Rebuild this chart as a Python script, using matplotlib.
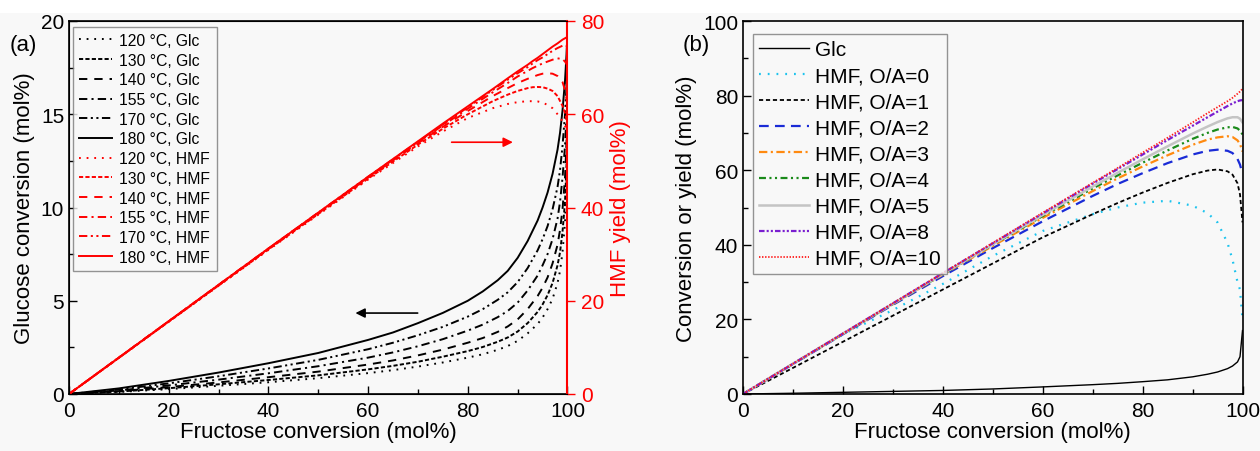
import matplotlib
matplotlib.use("Agg")
import matplotlib.pyplot as plt
from matplotlib.ticker import MultipleLocator
from matplotlib.patches import Rectangle

plt.rcParams['font.family'] = ['Liberation Sans', 'DejaVu Sans']
plt.rcParams['lines.scale_dashes'] = False

# ---------------- panel (a) data ----------------
temps = ["120", "130", "140", "155", "170", "180"]

x_glc_a = [0, 10, 20, 30, 40, 50, 60, 65, 70, 75, 80, 83, 86, 88, 90, 92, 94, 95, 96, 97, 98, 98.5, 99, 99.5, 99.8, 100]
glc_120 = [0, 0.11, 0.26, 0.44, 0.63, 0.85, 1.12, 1.28, 1.47, 1.69, 1.95, 2.13, 2.37, 2.57, 2.85, 3.25, 3.75, 4.1, 4.55, 5.1, 5.95, 6.6, 7.6, 9.2, 11.2, 14.0]
glc_130 = [0, 0.13, 0.31, 0.52, 0.75, 1.00, 1.32, 1.51, 1.73, 2.00, 2.30, 2.52, 2.80, 3.03, 3.35, 3.80, 4.40, 4.8, 5.30, 5.95, 6.90, 7.6, 8.7, 10.3, 12.2, 15.0]
glc_140 = [0, 0.15, 0.37, 0.62, 0.90, 1.20, 1.58, 1.80, 2.07, 2.38, 2.75, 3.00, 3.33, 3.62, 4.00, 4.55, 5.25, 5.7, 6.25, 7.00, 8.00, 8.8, 9.9, 11.6, 13.5, 16.0]
glc_155 = [0, 0.19, 0.46, 0.77, 1.11, 1.49, 1.95, 2.23, 2.56, 2.94, 3.40, 3.72, 4.12, 4.45, 4.90, 5.55, 6.35, 6.9, 7.50, 8.30, 9.40, 10.3, 11.6, 13.3, 15.0, 17.0]
glc_170 = [0, 0.24, 0.57, 0.95, 1.37, 1.83, 2.40, 2.75, 3.15, 3.60, 4.15, 4.55, 5.05, 5.45, 6.00, 6.75, 7.70, 8.3, 9.00, 9.90, 11.1, 12.0, 13.3, 15.0, 16.5, 18.0]
glc_180 = [0, 0.30, 0.70, 1.15, 1.65, 2.20, 2.90, 3.30, 3.80, 4.35, 5.00, 5.50, 6.10, 6.60, 7.30, 8.20, 9.30, 10.0, 10.8, 11.8, 13.1, 14.0, 15.2, 16.8, 18.2, 19.4]

x_hmf_a = [0, 20, 40, 60, 70, 75, 80, 85, 88, 90, 92, 93, 94, 95, 96, 97, 98, 99, 99.5, 100]
hmf_120 = [0, 15.5, 30.9, 46.0, 53.1, 56.3, 59.2, 61.3, 62.2, 62.6, 62.8, 62.8, 62.75, 62.5, 62.0, 61.3, 60.0, 58.5, 57.5, 56.0]
hmf_130 = [0, 15.5, 31.0, 46.2, 53.5, 56.9, 60.0, 62.8, 64.2, 65.0, 65.6, 65.8, 65.85, 65.8, 65.5, 65.0, 63.9, 61.8, 60.3, 58.0]
hmf_140 = [0, 15.6, 31.1, 46.4, 53.8, 57.3, 60.7, 63.9, 65.6, 66.7, 67.6, 68.0, 68.4, 68.7, 68.8, 68.7, 68.2, 66.9, 65.2, 62.0]
hmf_155 = [0, 15.6, 31.2, 46.5, 54.0, 57.6, 61.2, 64.7, 66.7, 68.1, 69.3, 69.9, 70.4, 70.9, 71.3, 71.7, 72.0, 71.8, 71.3, 70.4]
hmf_170 = [0, 15.6, 31.2, 46.6, 54.1, 57.8, 61.5, 65.2, 67.4, 68.8, 70.1, 70.9, 71.6, 72.2, 72.9, 73.6, 74.2, 74.7, 74.8, 74.6]
hmf_180 = [0, 15.6, 31.2, 46.6, 54.2, 58.0, 61.7, 65.4, 67.7, 69.2, 70.6, 71.4, 72.1, 72.9, 73.7, 74.5, 75.2, 76.0, 76.3, 76.6]

glc_a = [glc_120, glc_130, glc_140, glc_155, glc_170, glc_180]
hmf_a = [hmf_120, hmf_130, hmf_140, hmf_155, hmf_170, hmf_180]

# ---------------- panel (b) data ----------------
x_b = [0, 10, 20, 30, 40, 50, 60, 70, 75, 80, 85, 90, 93, 95, 97, 98, 99, 99.5, 100]
glc_b = [0, 0.2, 0.45, 0.7, 0.95, 1.35, 1.9, 2.5, 2.85, 3.3, 3.8, 4.6, 5.3, 5.9, 6.8, 7.5, 8.6, 10.0, 17.0]
oa_labels = ["0", "1", "2", "3", "4", "5", "8", "10"]
hmf_oa0 = [0, 8.0, 16.0, 22.5, 29.5, 37.0, 43.7, 48.2, 50.0, 51.3, 51.8, 50.5, 48.5, 46.0, 40.5, 36.0, 30.0, 28.0, 20.0]
hmf_oa1 = [0, 7.0, 14.0, 21.0, 28.0, 35.0, 42.0, 48.2, 51.2, 54.0, 56.6, 58.9, 59.9, 60.2, 59.7, 58.8, 56.5, 53.5, 46.0]
hmf_oa2 = [0, 8.0, 16.0, 23.9, 31.6, 39.1, 46.3, 53.1, 56.3, 59.2, 61.9, 64.2, 65.2, 65.5, 65.2, 64.6, 63.0, 61.5, 59.0]
hmf_oa3 = [0, 8.1, 16.1, 24.1, 32.0, 39.7, 47.2, 54.4, 57.8, 61.0, 64.0, 66.8, 68.2, 68.8, 69.1, 68.9, 68.0, 67.0, 65.0]
hmf_oa4 = [0, 8.1, 16.1, 24.1, 32.1, 40.0, 47.7, 55.1, 58.6, 62.0, 65.3, 68.4, 70.0, 70.9, 71.5, 71.6, 71.2, 70.6, 69.6]
hmf_oa5 = [0, 8.1, 16.2, 24.2, 32.2, 40.1, 48.0, 55.6, 59.3, 62.9, 66.4, 69.8, 71.7, 72.9, 73.9, 74.2, 74.2, 73.8, 72.8]
hmf_oa8 = [0, 8.1, 16.2, 24.3, 32.4, 40.4, 48.4, 56.4, 60.3, 64.2, 68.1, 71.9, 74.2, 75.7, 77.2, 77.9, 78.5, 78.7, 78.8]
hmf_oa10 = [0, 8.1, 16.2, 24.3, 32.4, 40.5, 48.6, 56.6, 60.6, 64.7, 68.7, 72.8, 75.3, 76.9, 78.5, 79.4, 80.5, 81.1, 81.8]
hmf_b = [hmf_oa0, hmf_oa1, hmf_oa2, hmf_oa3, hmf_oa4, hmf_oa5, hmf_oa8, hmf_oa10]

# ---------------- styles ----------------
styles_a = [
    (0, (1.3, 4.2)),            # dotted
    (0, (3.0, 1.6)),            # short dash
    (0, (6.0, 5.0)),            # dash
    (0, (6.0, 3.0, 1.5, 3.0)),  # dash-dot
    (0, (6.0, 2.5, 1.5, 2.5, 1.5, 2.5)),  # dash-dot-dot
    "-",
]
styles_b = [
    (0, (1.3, 5.0)),
    (0, (3.0, 2.0)),
    (0, (7.0, 4.5)),
    (0, (6.0, 2.5, 1.5, 2.5)),
    (0, (5.0, 2.5, 1.5, 2.5, 1.5, 2.5)),
    "-",
    (0, (4.0, 1.5, 1.5, 1.5, 1.5, 1.5)),
    (0, (1.0, 1.2)),
]
colors_b = ["#1cc3ee", "black", "#1a2bd6", "#ff8a10", "#1a8a1a", "#c4c4c4", "#7a1fd0", "#ff1a1a"]
widths_b = [1.6, 1.3, 1.6, 1.6, 1.6, 1.8, 1.6, 1.3]

W, H = 1260, 452
fig = plt.figure(figsize=(W / 100, H / 100), dpi=100, facecolor="#f8f8f8")
fig.patches.append(Rectangle((0, 1 - 14 / H), 1, 14 / H, transform=fig.transFigure,
                             facecolor="white", edgecolor="none", zorder=-1))

bot = 1 - 395 / H
hgt = (395 - 22) / H

# ---------------- panel (a) ----------------
ax1 = fig.add_axes([69 / W, bot, (567.5 - 69) / W, hgt])
ax1.set_facecolor("#f8f8f8")
ax2 = ax1.twinx()

for t, ys, ls in zip(temps, glc_a, styles_a):
    ax1.plot(x_glc_a, ys, color="black", ls=ls, lw=1.4, label=f"{t} °C, Glc")
for t, ys, ls in zip(temps, hmf_a, styles_a):
    ax2.plot(x_hmf_a, ys, color="#ff0000", ls=ls, lw=1.4, label=f"{t} °C, HMF")

ax1.set_xlim(0, 100)
ax1.set_ylim(0, 20)
ax2.set_ylim(0, 80)
ax1.xaxis.set_major_locator(MultipleLocator(20))
ax1.xaxis.set_minor_locator(MultipleLocator(10))
ax1.yaxis.set_major_locator(MultipleLocator(5))
ax1.yaxis.set_minor_locator(MultipleLocator(2.5))
ax2.yaxis.set_major_locator(MultipleLocator(20))
ax1.tick_params(which="both", direction="in", top=False, right=False, labelsize=15, width=1)
ax1.tick_params(axis="x", pad=5)
ax1.tick_params(which="major", length=6)
ax1.tick_params(which="minor", length=3.5)
ax2.tick_params(axis="y", direction="out", length=6, width=1, colors="#ff0000", labelsize=15)
for s in ["left", "bottom", "top"]:
    ax1.spines[s].set_linewidth(1.2)
ax2.spines["right"].set_color("#ff0000")
ax2.spines["right"].set_linewidth(1.5)
ax1.spines["right"].set_visible(False)

ax1.set_xlabel("Fructose conversion (mol%)", fontsize=16, labelpad=1)
ax1.set_ylabel("Glucose conversion (mol%)", fontsize=16, labelpad=4)
ax2.set_ylabel("HMF yield (mol%)", fontsize=16, color="#ff0000", labelpad=4)

# arrows pointing to the relevant axes
ax1.annotate("", xy=(56.9, 4.34), xytext=(70.5, 4.34),
             arrowprops=dict(arrowstyle="-|>", color="black", lw=1.2, mutation_scale=14))
ax2.annotate("", xy=(89.6, 54.0), xytext=(76.2, 54.0),
             arrowprops=dict(arrowstyle="-|>", color="#ff0000", lw=1.2, mutation_scale=14))

h1, l1 = ax1.get_legend_handles_labels()
h2, l2 = ax2.get_legend_handles_labels()
leg = ax2.legend(h1 + h2, l1 + l2, loc="upper left", bbox_to_anchor=(0.008, 0.985),
                 fontsize=11.3, frameon=True, fancybox=False, borderaxespad=0,
                 handlelength=2.1, handletextpad=0.45, labelspacing=0.3,
                 borderpad=0.4)
leg.get_frame().set_edgecolor("#7a7a7a")
leg.get_frame().set_facecolor("#f8f8f8")
leg.get_frame().set_linewidth(1.0)

fig.text(10 / W, 1 - 45 / H, "(a)", fontsize=16, va="center", ha="left")

# ---------------- panel (b) ----------------
ax3 = fig.add_axes([743 / W, bot, (1242.5 - 743) / W, hgt])
ax3.set_facecolor("#f8f8f8")
ax3.plot(x_b, glc_b, color="black", lw=1.0, label="Glc")
for lab, ys, ls, c, w in zip(oa_labels, hmf_b, styles_b, colors_b, widths_b):
    ax3.plot(x_b, ys, color=c, ls=ls, lw=w, label=f"HMF, O/A={lab}")

ax3.set_xlim(0, 100)
ax3.set_ylim(0, 100)
ax3.xaxis.set_major_locator(MultipleLocator(20))
ax3.xaxis.set_minor_locator(MultipleLocator(10))
ax3.yaxis.set_major_locator(MultipleLocator(20))
ax3.yaxis.set_minor_locator(MultipleLocator(10))
ax3.tick_params(which="both", direction="in", top=False, right=False, labelsize=15, width=1)
ax3.tick_params(axis="x", pad=5)
ax3.tick_params(which="major", length=6)
ax3.tick_params(which="minor", length=3.5)
for s in ax3.spines.values():
    s.set_linewidth(1.2)
ax3.set_xlabel("Fructose conversion (mol%)", fontsize=16, labelpad=1)
ax3.set_ylabel("Conversion or yield (mol%)", fontsize=16, labelpad=4)

leg3 = ax3.legend(loc="upper left", bbox_to_anchor=(0.02, 0.965), fontsize=15,
                  frameon=True, fancybox=False, borderaxespad=0,
                  handlelength=2.4, handletextpad=0.3, labelspacing=0.34,
                  borderpad=0.3)
leg3.get_frame().set_edgecolor("#7a7a7a")
leg3.get_frame().set_facecolor("#f8f8f8")
leg3.get_frame().set_linewidth(1.0)

fig.text(683 / W, 1 - 45 / H, "(b)", fontsize=16, va="center", ha="left")

fig.savefig("out.png", dpi=100, facecolor=fig.get_facecolor())
